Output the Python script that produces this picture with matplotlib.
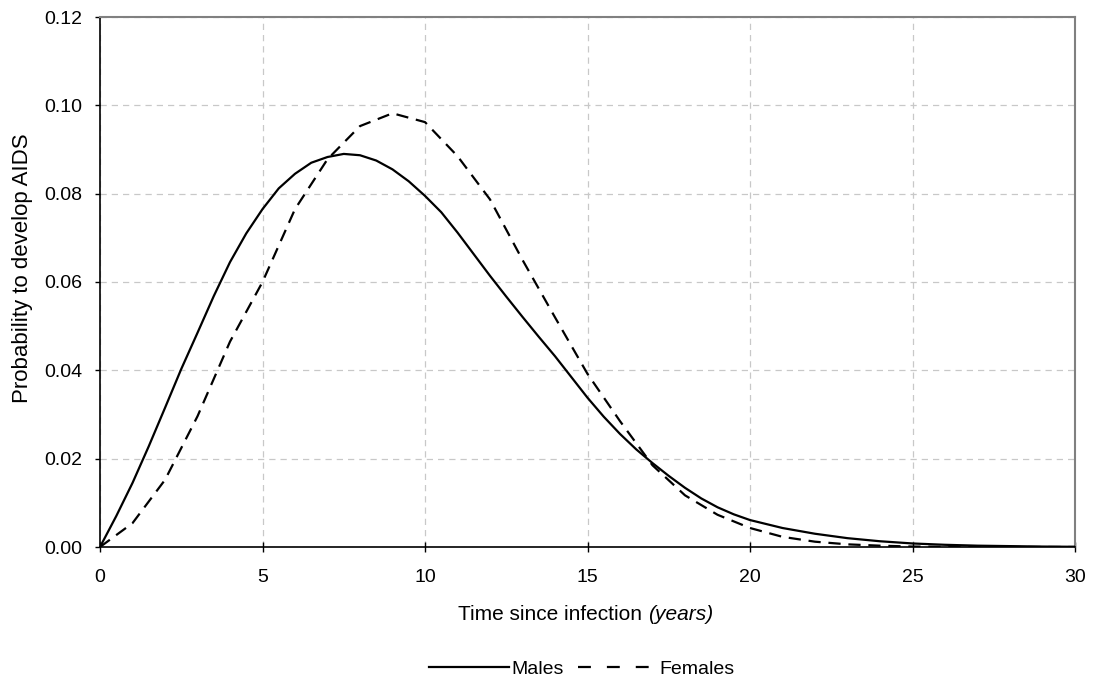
import matplotlib
matplotlib.use("Agg")
import matplotlib.pyplot as plt
from matplotlib.lines import Line2D
from matplotlib.offsetbox import TextArea, HPacker, AnchoredOffsetbox

plt.rcParams['font.family'] = ['Liberation Sans', 'DejaVu Sans']

# Data
male_years = [0, 0.5, 1, 1.5, 2, 2.5, 3, 3.5, 4, 4.5, 5, 5.5, 6, 6.5, 7, 7.5, 8, 8.5,
              9, 9.5, 10, 10.5, 11, 11.5, 12, 12.5, 13, 13.5, 14, 14.5, 15, 15.5,
              16, 16.5, 17, 17.5, 18, 18.5, 19, 19.5, 20, 21, 22, 23, 24, 25, 26,
              27, 28, 29, 30]
males = [0.0, 0.007, 0.0145, 0.0228, 0.0315, 0.0403, 0.0485, 0.0568, 0.0645, 0.0710,
         0.0765, 0.0812, 0.0845, 0.0870, 0.0883, 0.0890, 0.0887, 0.0875,
         0.0855, 0.0828, 0.0795, 0.0758, 0.0712, 0.0663, 0.0614, 0.0567, 0.0521,
         0.0476, 0.0432, 0.0385, 0.0338, 0.0295, 0.0256, 0.0221, 0.0190, 0.0161,
         0.0134, 0.0110, 0.0090, 0.0074, 0.0061, 0.0043, 0.0030, 0.0020, 0.0013,
         0.0008, 0.0005, 0.0003, 0.0002, 0.0001, 0.00005]

female_years = list(range(0, 31))
females = [0.0, 0.0054, 0.0152, 0.0296, 0.0465, 0.0600, 0.0765, 0.0878, 0.0953, 0.0982,
           0.0962, 0.0885, 0.0787, 0.0650, 0.0520, 0.0392, 0.0285, 0.0185, 0.0117,
           0.0073, 0.0043, 0.0023, 0.0012, 0.0006, 0.0003, 0.0001, 0.00005, 0.0,
           0.0, 0.0, 0.0]

x_ticks = [0, 5, 10, 15, 20, 25, 30]
y_ticks = [0.00, 0.02, 0.04, 0.06, 0.08, 0.10, 0.12]

FS = 14

fig = plt.figure(figsize=(10.93, 6.86), dpi=100)
ax = fig.add_axes([100/1093, 1-547/686, 975/1093, 530/686])

ax.plot(male_years, males, color='black', lw=1.6, label='Males', zorder=3)
ax.plot(female_years, females, color='black', lw=1.6, linestyle=(0, (5.5, 3.5)),
        label='Females', zorder=3)

ax.set_xlim(0, 30)
ax.set_ylim(0, 0.12)
ax.set_xticks(x_ticks)
ax.set_yticks(y_ticks)
ax.set_yticklabels([f"{v:.2f}" for v in y_ticks])
ax.tick_params(axis='both', labelsize=FS, colors='black', width=1)
ax.tick_params(axis='x', direction='inout', length=7, pad=12)
ax.tick_params(axis='y', direction='out', length=3.6, pad=9)

ax.grid(True, color='#c8c8c8', linestyle=(0, (5, 4)), lw=0.9, zorder=0)
ax.set_axisbelow(True)

for s in ['top', 'right']:
    ax.spines[s].set_color('#808080')
    ax.spines[s].set_linewidth(1.5)
for s in ['left', 'bottom']:
    ax.spines[s].set_color('black')
    ax.spines[s].set_linewidth(1.2)

# y label
ax.set_ylabel('Probability to develop AIDS', fontsize=FS + 2)
ax.yaxis.set_label_coords(-67/975, (547-268)/530)

# x label with italic part
t1 = TextArea('Time since infection ', textprops=dict(fontsize=FS + 1, color='black'))
t2 = TextArea('(years)', textprops=dict(fontsize=FS + 1, color='black', style='italic'))
box = HPacker(children=[t1, t2], pad=0, sep=0, align='baseline')
anch = AnchoredOffsetbox(loc='center', child=box, pad=0, frameon=False,
                         bbox_to_anchor=(586/1093, 1-614/686),
                         bbox_transform=fig.transFigure, borderpad=0)
fig.add_artist(anch)

# legend
h_m = Line2D([], [], color='black', lw=1.6)
h_f = Line2D([], [], color='black', lw=1.6, linestyle=(0, (5.8, 7.2)))
fig.legend([h_m, h_f], ['Males', 'Females'], loc='center',
           bbox_to_anchor=(582/1093, 1-669/686), ncol=2, frameon=False,
           fontsize=FS, handlelength=4.1, columnspacing=0.75, handletextpad=0.1)

fig.savefig('out.png', dpi=100)
